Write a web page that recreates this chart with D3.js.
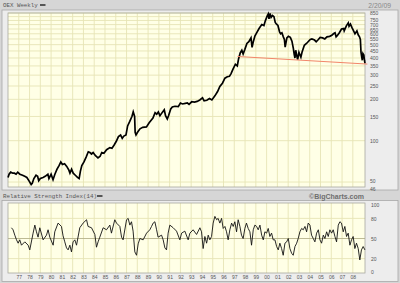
<!DOCTYPE html>
<html lang="en">
<head>
<meta charset="UTF-8">
<title>OEX Weekly</title>
<script src="https://d3js.org/d3.v7.min.js"></script>
<style>
    body { margin: 0; background: #fff; }
    svg { display: block; }
    .tick text { font-family: "Liberation Sans", Arial, sans-serif; font-size: 5px; fill: #555; }
    .mono { font-family: "Liberation Mono", "DejaVu Sans Mono", monospace; font-size: 5.8px; fill: #555; }
</style>
</head>
<body>
<svg width="400" height="283"></svg>
<script>
const yearTicks = [1977, 1978, 1979, 1980, 1981, 1982, 1983, 1984, 1985, 1986, 1987, 1988, 1989, 1990, 1991, 1992,
    1993, 1994, 1995, 1996, 1997, 1998, 1999, 2000, 2001, 2002, 2003, 2004, 2005, 2006, 2007, 2008];
const priceTicks = [850, 750, 700, 650, 600, 550, 500, 450, 400, 350, 300, 250, 200, 150, 100, 50, 46];
const priceGrid = [850, 800, 750, 700, 650, 600, 550, 500, 450, 400, 350, 300, 250, 200, 150, 100, 50];
const rsiTicks = [100, 80, 50, 20, 0];
const rsiGrid = [80, 20];

const priceYears = [1976.00, 1976.10, 1976.25, 1976.45, 1976.60, 1976.75, 1976.90, 1977.10, 1977.35, 1977.55,
    1977.75, 1977.95, 1978.15, 1978.25, 1978.40, 1978.60, 1978.75, 1978.85, 1979.00, 1979.25,
    1979.45, 1979.70, 1979.80, 1980.00, 1980.18, 1980.35, 1980.55, 1980.75, 1980.90, 1981.05,
    1981.25, 1981.45, 1981.65, 1981.75, 1981.90, 1982.05, 1982.25, 1982.45, 1982.60, 1982.72,
    1982.85, 1983.05, 1983.25, 1983.45, 1983.60, 1983.75, 1983.90, 1984.10, 1984.35, 1984.55,
    1984.70, 1984.90, 1985.15, 1985.45, 1985.65, 1985.85, 1986.05, 1986.25, 1986.45, 1986.60,
    1986.75, 1986.95, 1987.10, 1987.30, 1987.50, 1987.62, 1987.75, 1987.80, 1987.88, 1988.05,
    1988.25, 1988.50, 1988.85, 1989.10, 1989.45, 1989.65, 1989.80, 1989.95, 1990.10, 1990.30,
    1990.50, 1990.62, 1990.78, 1990.90, 1991.10, 1991.25, 1991.50, 1991.80, 1992.00, 1992.20,
    1992.45, 1992.65, 1992.80, 1993.05, 1993.30, 1993.55, 1993.80, 1994.05, 1994.20, 1994.45,
    1994.70, 1994.92, 1995.20, 1995.45, 1995.66, 1995.90, 1996.13, 1996.35, 1996.55, 1996.70,
    1996.87, 1997.10, 1997.28, 1997.40, 1997.55, 1997.70, 1997.82, 1997.98, 1998.17, 1998.35,
    1998.55, 1998.65, 1998.75, 1998.92, 1999.10, 1999.30, 1999.55, 1999.75, 1999.88, 2000.03,
    2000.15, 2000.22, 2000.32, 2000.42, 2000.55, 2000.68, 2000.80, 2000.92, 2001.05, 2001.20,
    2001.30, 2001.42, 2001.55, 2001.65, 2001.72, 2001.88, 2002.02, 2002.20, 2002.35, 2002.48,
    2002.56, 2002.63, 2002.70, 2002.80, 2002.88, 2003.00, 2003.18, 2003.30, 2003.50, 2003.70,
    2003.85, 2004.05, 2004.20, 2004.45, 2004.60, 2004.80, 2004.97, 2005.20, 2005.40, 2005.60,
    2005.85, 2006.05, 2006.20, 2006.35, 2006.45, 2006.55, 2006.75, 2006.95, 2007.15, 2007.20,
    2007.40, 2007.58, 2007.65, 2007.78, 2007.92, 2008.05, 2008.20, 2008.38, 2008.50, 2008.62,
    2008.70, 2008.76, 2008.82, 2008.88, 2008.94, 2009.02, 2009.08, 2009.13];
const priceValues = [54, 57, 59, 58, 58, 57, 59, 57, 56, 55,
    54, 51, 48, 49, 53, 56, 55, 51, 53, 54,
    55, 57, 53, 57, 52, 57, 62, 66, 70, 67,
    68, 65, 61, 58, 62, 58, 56, 54, 53, 60,
    66, 70, 76, 83, 82, 80, 82, 78, 75, 77,
    82, 81, 86, 89, 88, 93, 99, 107, 110, 104,
    108, 110, 128, 138, 150, 162, 150, 115, 110, 116,
    122, 125, 126, 135, 146, 160, 156, 162, 152, 160,
    168, 152, 144, 152, 170, 176, 178, 177, 188, 185,
    187, 188, 184, 192, 191, 193, 198, 205, 195, 197,
    203, 198, 212, 228, 248, 262, 285, 292, 294, 308,
    330, 360, 350, 395, 435, 455, 428, 462, 510, 525,
    560, 478, 520, 580, 615, 655, 700, 688, 745, 800,
    835, 770, 845, 790, 815, 800, 725, 705, 690, 620,
    600, 610, 570, 545, 480, 560, 575, 565, 530, 470,
    425, 400, 455, 415, 390, 440, 405, 445, 495, 510,
    525, 545, 550, 540, 525, 545, 565, 560, 550, 570,
    575, 585, 600, 610, 570, 580, 610, 650, 655, 630,
    685, 720, 680, 705, 665, 635, 600, 630, 590, 570,
    545, 440, 410, 385, 430, 420, 385, 365];

const trendYears = [1997.30, 2009.35];
const trendValues = [410, 361];

const rsiYears = [1976.32, 1976.47, 1976.63, 1976.79, 1976.94, 1977.09, 1977.25, 1977.56, 1977.87, 1978.02,
    1978.33, 1978.49, 1978.64, 1978.79, 1978.95, 1979.26, 1979.57, 1979.72, 1979.88, 1980.19,
    1980.34, 1980.65, 1980.96, 1981.11, 1981.27, 1981.43, 1981.58, 1981.74, 1981.89, 1982.04,
    1982.20, 1982.36, 1982.66, 1982.97, 1983.29, 1983.43, 1983.75, 1984.06, 1984.21, 1984.36,
    1984.52, 1984.83, 1985.14, 1985.45, 1985.60, 1985.91, 1986.07, 1986.38, 1986.54, 1986.68,
    1987.00, 1987.15, 1987.31, 1987.46, 1987.61, 1987.77, 1987.93, 1988.08, 1988.24, 1988.54,
    1988.86, 1989.16, 1989.32, 1989.47, 1989.63, 1989.79, 1989.93, 1990.25, 1990.40, 1990.56,
    1990.71, 1990.86, 1991.02, 1991.33, 1991.64, 1991.95, 1992.11, 1992.41, 1992.72, 1992.88,
    1993.18, 1993.50, 1993.81, 1993.96, 1994.11, 1994.27, 1994.43, 1994.58, 1994.73, 1994.89,
    1995.04, 1995.20, 1995.36, 1995.50, 1995.66, 1995.82, 1995.97, 1996.13, 1996.28, 1996.43,
    1996.59, 1996.75, 1996.90, 1997.05, 1997.21, 1997.36, 1997.52, 1997.67, 1997.82, 1997.98,
    1998.13, 1998.29, 1998.45, 1998.60, 1998.76, 1998.91, 1999.07, 1999.22, 1999.38, 1999.54,
    1999.69, 1999.84, 2000.00, 2000.15, 2000.30, 2000.46, 2000.61, 2000.77, 2000.93, 2001.08,
    2001.23, 2001.39, 2001.54, 2001.70, 2001.86, 2002.01, 2002.16, 2002.32, 2002.47, 2002.63,
    2002.79, 2002.93, 2003.09, 2003.25, 2003.40, 2003.56, 2003.71, 2003.86, 2004.02, 2004.17,
    2004.33, 2004.48, 2004.64, 2004.80, 2004.95, 2005.10, 2005.26, 2005.41, 2005.57, 2005.72,
    2005.87, 2006.03, 2006.18, 2006.34, 2006.49, 2006.65, 2006.80, 2006.95, 2007.11, 2007.26,
    2007.42, 2007.57, 2007.73, 2007.88, 2008.03, 2008.19, 2008.34, 2008.50, 2008.65, 2008.80,
    2008.96, 2009.12];
const rsiValues = [66, 63, 55, 48, 43, 48, 40, 45, 40, 33,
    58, 70, 60, 52, 66, 48, 55, 63, 52, 40,
    60, 73, 68, 54, 45, 36, 33, 40, 30, 45,
    48, 40, 66, 73, 78, 68, 66, 56, 37, 45,
    52, 66, 63, 70, 58, 78, 73, 68, 52, 48,
    78, 80, 70, 75, 61, 30, 25, 42, 50, 48,
    58, 63, 68, 73, 75, 63, 52, 55, 48, 36,
    33, 58, 70, 66, 61, 48, 58, 61, 48, 58,
    63, 56, 66, 60, 35, 53, 43, 55, 48, 53,
    73, 83, 78, 80, 73, 80, 65, 68, 60, 48,
    63, 73, 68, 75, 60, 78, 68, 55, 50, 65,
    73, 65, 60, 40, 63, 70, 68, 63, 70, 55,
    48, 60, 58, 65, 53, 58, 48, 48, 38, 33,
    43, 35, 25, 43, 45, 50, 35, 28, 25, 38,
    43, 50, 60, 65, 63, 68, 60, 73, 70, 55,
    50, 45, 58, 63, 48, 43, 55, 50, 60, 53,
    63, 58, 63, 53, 45, 70, 75, 73, 60, 68,
    53, 58, 40, 48, 53, 35, 43, 35, 18, 33,
    38, 33];

const svg = d3.select("svg");
const plotL = 8, plotR = 365;

const x = d3.scaleLinear().domain([1976.0, 2009.13]).range([plotL, plotR]);
const yP = d3.scaleLog().domain([46, 850]).range([187, 13]);
const yR = d3.scaleLinear().domain([0, 100]).range([272, 205]);

// frame
svg.append("rect").attr("width", 400).attr("height", 283).attr("fill", "#d6d6d6");
svg.append("rect").attr("x", 2).attr("y", 10).attr("width", 396).attr("height", 180)
    .attr("fill", "#ededed").attr("stroke", "#a8a8a8").attr("stroke-width", 0.8);
svg.append("rect").attr("x", 2).attr("y", 200.5).attr("width", 396).attr("height", 81)
    .attr("fill", "#ededed").attr("stroke", "#a8a8a8").attr("stroke-width", 0.8);

function panel(top, bottom) {
    return svg.append("rect").attr("x", plotL).attr("y", top)
        .attr("width", plotR - plotL).attr("height", bottom - top)
        .attr("fill", "#ffffe6");
}
panel(13, 187);
panel(203, 273);

const grid = svg.append("g").attr("stroke", "#e7e4b6").attr("stroke-width", 0.9);
grid.selectAll(".vp").data(yearTicks).enter().append("line")
    .attr("x1", d => x(d)).attr("x2", d => x(d)).attr("y1", 13).attr("y2", 187);
grid.selectAll(".vr").data(yearTicks).enter().append("line")
    .attr("x1", d => x(d)).attr("x2", d => x(d)).attr("y1", 203).attr("y2", 273);
grid.selectAll(".hp").data(priceGrid).enter().append("line")
    .attr("x1", plotL).attr("x2", plotR).attr("y1", d => yP(d)).attr("y2", d => yP(d));
grid.selectAll(".hr").data(rsiGrid).enter().append("line")
    .attr("x1", plotL).attr("x2", plotR).attr("y1", d => yR(d)).attr("y2", d => yR(d));
svg.append("line").attr("x1", plotL).attr("x2", plotR).attr("y1", yR(50)).attr("y2", yR(50))
    .attr("stroke", "#b5b28a").attr("stroke-width", 0.9);

// borders
[[13, 187], [203, 273]].forEach(([t, b]) => {
    svg.append("rect").attr("x", plotL).attr("y", t).attr("width", plotR - plotL).attr("height", b - t)
        .attr("fill", "none").attr("stroke", "#a9a9a0").attr("stroke-width", 0.8);
});

// price
const priceLine = d3.line().x((d, i) => x(priceYears[i])).y(d => yP(d));
svg.append("path").datum(priceValues).attr("d", priceLine)
    .attr("fill", "none").attr("stroke", "#000").attr("stroke-width", 1.7).attr("stroke-linejoin", "miter");

const trendLine = d3.line().x((d, i) => x(trendYears[i])).y(d => yP(d));
svg.append("path").datum(trendValues).attr("d", trendLine)
    .attr("fill", "none").attr("stroke", "#f2866a").attr("stroke-width", 1);

// rsi
const rsiLine = d3.line().x((d, i) => x(rsiYears[i])).y(d => yR(d));
svg.append("path").datum(rsiValues).attr("d", rsiLine)
    .attr("fill", "none").attr("stroke", "#111").attr("stroke-width", 0.9);

// axes
const pAxis = svg.append("g").attr("transform", "translate(" + plotR + ",0)")
    .call(d3.axisRight(yP).tickValues(priceTicks).tickFormat(d3.format("d")).tickSize(0).tickPadding(5));
pAxis.select(".domain").remove();
// crowded labels near the top and bottom get nudged apart
const nudge = {750: "0.18em", 650: "0.42em", 600: "0.42em", 550: "0.38em", 50: "0.1em", 46: "0.62em"};
pAxis.selectAll(".tick").filter(d => nudge[d]).select("text").attr("dy", d => nudge[d]);

const rAxis = svg.append("g").attr("transform", "translate(" + plotR + ",0)")
    .call(d3.axisRight(yR).tickValues(rsiTicks).tickSize(0).tickPadding(6));
rAxis.select(".domain").remove();

const xAxis = svg.append("g").attr("transform", "translate(0,273)")
    .call(d3.axisBottom(x).tickValues(yearTicks).tickFormat(d => String(d).slice(2)).tickSize(0).tickPadding(2.5));
xAxis.select(".domain").remove();

// labels
svg.append("text").attr("class", "mono").attr("x", 3).attr("y", 7).text("OEX Weekly");
svg.append("line").attr("x1", 40).attr("x2", 45.5).attr("y1", 5).attr("y2", 5)
    .attr("stroke", "#000").attr("stroke-width", 1.2);
svg.append("text").attr("x", 391).attr("y", 7.5).attr("text-anchor", "end")
    .style("font-family", "Liberation Sans, Arial, sans-serif").style("font-size", "6.8px").style("fill", "#888")
    .text("2/20/09");

svg.append("text").attr("class", "mono").attr("x", 3).attr("y", 198).text("Relative Strength Index(14)");
svg.append("line").attr("x1", 97).attr("x2", 102.5).attr("y1", 196).attr("y2", 196)
    .attr("stroke", "#000").attr("stroke-width", 1.2);
svg.append("text").attr("x", 364).attr("y", 198.5).attr("text-anchor", "end")
    .style("font-family", "Liberation Sans, Arial, sans-serif").style("font-size", "7px")
    .style("font-weight", "bold").style("fill", "#6e6e6e")
    .text("©BigCharts.com");
</script>
</body>
</html>
